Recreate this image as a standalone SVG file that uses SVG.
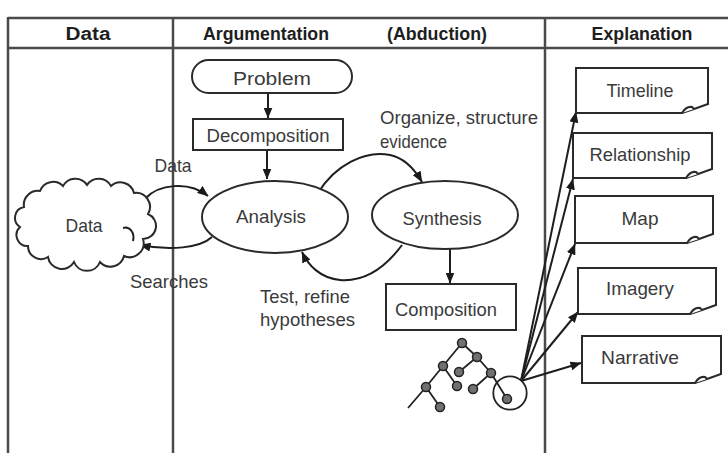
<svg xmlns="http://www.w3.org/2000/svg" width="728" height="453" viewBox="0 0 728 453">
  <defs>
    <marker id="arrow" markerWidth="11" markerHeight="9" refX="10.5" refY="4.5" orient="auto" markerUnits="userSpaceOnUse">
      <path d="M0,0 L11,4.5 L0,9 z" fill="#1a1a1a"/>
    </marker>
  </defs>
  <style>
    .frame{stroke:#4a4a4a;stroke-width:2.5;fill:none}
    .shape{fill:#fff;stroke:#2a2a2a;stroke-width:2}
    .edge{fill:none;stroke:#1e1e1e;stroke-width:2}
    .lbl{font-family:"Liberation Sans",Arial,sans-serif;font-size:19px;fill:#3a3a3a;text-anchor:middle}
    .left{text-anchor:start}
    .hdr{font-family:"Liberation Sans",Arial,sans-serif;font-size:18px;font-weight:bold;fill:#1e1e1e;text-anchor:middle}
    .tree{stroke:#222;stroke-width:1.8;fill:none}
    .tnode{fill:#707070;stroke:#222;stroke-width:1.5}
  </style>

  <rect width="728" height="453" fill="#fff"/>

  <!-- column frame -->
  <g id="frame">
    <line class="frame" x1="8" y1="18" x2="728" y2="18"/>
    <line class="frame" x1="8" y1="48" x2="728" y2="48"/>
    <line class="frame" x1="8" y1="17" x2="8" y2="453"/>
    <line class="frame" x1="173" y1="18" x2="173" y2="453"/>
    <line class="frame" x1="545" y1="18" x2="545" y2="453"/>
    <text class="hdr" x="88" y="40" textLength="45" lengthAdjust="spacingAndGlyphs">Data</text>
    <text class="hdr" x="266" y="40" textLength="126" lengthAdjust="spacingAndGlyphs">Argumentation</text>
    <text class="hdr" x="437" y="40" textLength="100" lengthAdjust="spacingAndGlyphs">(Abduction)</text>
    <text class="hdr" x="642" y="40" textLength="101" lengthAdjust="spacingAndGlyphs">Explanation</text>
  </g>

  <!-- connectors -->
  <g id="connectors">
    <line class="edge" x1="268" y1="93" x2="268" y2="118" marker-end="url(#arrow)"/>
    <line class="edge" x1="267" y1="150" x2="267" y2="179" marker-end="url(#arrow)"/>
    <line class="edge" x1="450" y1="249" x2="450" y2="283" marker-end="url(#arrow)"/>
    <path class="edge" d="M146,198 C158,185 188,180 208,196" marker-end="url(#arrow)"/>
    <path class="edge" d="M212,237 C200,248 170,251 140,245" marker-end="url(#arrow)"/>
    <path class="edge" d="M318,193 C335,165 365,150 390,155 C405,158 415,170 422,182" marker-end="url(#arrow)"/>
    <path class="edge" d="M402,245 C385,268 365,282 340,280 C320,278 308,265 302,252" marker-end="url(#arrow)"/>
    <line class="edge" x1="521" y1="381" x2="576" y2="112" marker-end="url(#arrow)"/>
    <line class="edge" x1="521" y1="381" x2="573" y2="179" marker-end="url(#arrow)"/>
    <line class="edge" x1="521" y1="381" x2="575" y2="244" marker-end="url(#arrow)"/>
    <line class="edge" x1="521" y1="381" x2="578" y2="312" marker-end="url(#arrow)"/>
    <line class="edge" x1="521" y1="381" x2="581" y2="363" marker-end="url(#arrow)"/>
  </g>

  <!-- connector labels -->
  <g id="edge-labels">
    <text class="lbl" x="173" y="172" textLength="37" lengthAdjust="spacingAndGlyphs">Data</text>
    <text class="lbl" x="169" y="288" textLength="78" lengthAdjust="spacingAndGlyphs">Searches</text>
    <text class="lbl left" x="380" y="124" textLength="158" lengthAdjust="spacingAndGlyphs">Organize, structure</text>
    <text class="lbl left" x="380" y="148" textLength="67" lengthAdjust="spacingAndGlyphs">evidence</text>
    <text class="lbl left" x="260" y="303" textLength="90" lengthAdjust="spacingAndGlyphs">Test, refine</text>
    <text class="lbl left" x="260" y="326" textLength="95" lengthAdjust="spacingAndGlyphs">hypotheses</text>
  </g>

  <g id="data-source">
    <path class="shape" d="M24,207 A14,14 0 0 1 40,191 A14,14 0 0 1 63,186 A14,14 0 0 1 87,185 A14,14 0 0 1 111,186 A14,14 0 0 1 134,193 A14,14 0 0 1 148,214 A13,13 0 0 1 143,239 A14,14 0 0 1 124,256 A14,14 0 0 1 100,262 A14,14 0 0 1 74,262 A14,14 0 0 1 48,257 A13,13 0 0 1 28,246 A11,11 0 0 1 20,227 A11,11 0 0 1 24,207 Z"/>
    <path class="edge" d="M123,228 C130,226 135,233 133,241"/>
    <text class="lbl" x="84" y="232" textLength="37" lengthAdjust="spacingAndGlyphs">Data</text>
  </g>

  <g id="problem">
    <rect class="shape" x="192" y="60" width="160" height="33" rx="16.5"/>
    <text class="lbl" x="272" y="85" textLength="78" lengthAdjust="spacingAndGlyphs">Problem</text>
  </g>

  <g id="decomposition">
    <rect class="shape" x="193" y="119" width="150" height="31"/>
    <text class="lbl" x="268" y="141.5" textLength="123" lengthAdjust="spacingAndGlyphs">Decomposition</text>
  </g>

  <g id="analysis">
    <ellipse class="shape" cx="275" cy="217" rx="73" ry="36"/>
    <text class="lbl" x="271" y="223" textLength="70" lengthAdjust="spacingAndGlyphs">Analysis</text>
  </g>

  <g id="synthesis">
    <ellipse class="shape" cx="445" cy="215" rx="73" ry="34"/>
    <text class="lbl" x="442" y="225" textLength="79" lengthAdjust="spacingAndGlyphs">Synthesis</text>
  </g>

  <g id="composition">
    <rect class="shape" x="386" y="284" width="130" height="46"/>
    <text class="lbl" x="446" y="316" textLength="102" lengthAdjust="spacingAndGlyphs">Composition</text>
  </g>

  <!-- hierarchy sketch feeding the explanation products -->
  <g id="structure-tree">
    <path class="tree" d="M462,343 L443,366 L426,387 L408,408 M443,366 L457,386 M462,343 L477,357 L459,372 M477,357 L491,373 L473,389 M491,373 L507,399 M426,387 L440,407"/>
    <circle class="tree" cx="510" cy="393" r="16.7"/>
    <circle class="tnode" cx="462" cy="343" r="4.5"/>
    <circle class="tnode" cx="477" cy="357" r="4.5"/>
    <circle class="tnode" cx="443" cy="366" r="4.5"/>
    <circle class="tnode" cx="459" cy="372" r="4.5"/>
    <circle class="tnode" cx="491" cy="373" r="4.5"/>
    <circle class="tnode" cx="426" cy="387" r="4.5"/>
    <circle class="tnode" cx="457" cy="386" r="4.5"/>
    <circle class="tnode" cx="473" cy="389" r="4.5"/>
    <circle class="tnode" cx="507" cy="399" r="4.5"/>
    <circle class="tnode" cx="440" cy="407" r="4.5"/>
  </g>

  <g id="timeline">
    <path class="shape" d="M576,68 H708 V104 L694,109 Q688,111 682,113 H576 Z"/>
    <path class="shape" d="M682,113 Q686,106 692,107 L694,109" stroke-width="1.5"/>
    <text class="lbl" x="640" y="96.5" textLength="67" lengthAdjust="spacingAndGlyphs">Timeline</text>
  </g>

  <g id="relationship">
    <path class="shape" d="M573,133 H712 V169 L698,174 Q692,176 686,178 H573 Z"/>
    <path class="shape" d="M686,178 Q690,171 696,172 L698,174" stroke-width="1.5"/>
    <text class="lbl" x="640" y="161" textLength="101" lengthAdjust="spacingAndGlyphs">Relationship</text>
  </g>

  <g id="map">
    <path class="shape" d="M575,196 H713 V234 L699,239 Q693,241 687,243 H575 Z"/>
    <path class="shape" d="M687,243 Q691,236 697,237 L699,239" stroke-width="1.5"/>
    <text class="lbl" x="640" y="225" textLength="37" lengthAdjust="spacingAndGlyphs">Map</text>
  </g>

  <g id="imagery">
    <path class="shape" d="M578,268 H716 V305 L702,310 Q696,312 690,314 H578 Z"/>
    <path class="shape" d="M690,314 Q694,307 700,308 L702,310" stroke-width="1.5"/>
    <text class="lbl" x="640" y="295" textLength="68" lengthAdjust="spacingAndGlyphs">Imagery</text>
  </g>

  <g id="narrative">
    <path class="shape" d="M582,336 H721 V374 L707,379 Q701,381 695,383 H582 Z"/>
    <path class="shape" d="M695,383 Q699,376 705,377 L707,379" stroke-width="1.5"/>
    <text class="lbl" x="640" y="364" textLength="78" lengthAdjust="spacingAndGlyphs">Narrative</text>
  </g>
</svg>
